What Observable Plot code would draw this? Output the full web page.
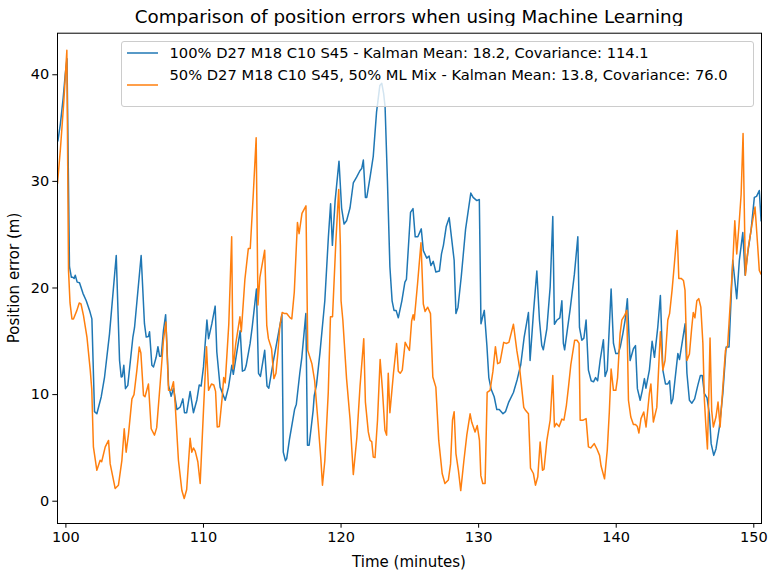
<!DOCTYPE html>
<html>
<head>
<meta charset="utf-8">
<script src="https://cdn.jsdelivr.net/npm/d3@7"></script>
<script src="https://cdn.jsdelivr.net/npm/@observablehq/plot@0.6"></script>
<style>
  html, body { margin: 0; padding: 0; background: white; }
  #wrap { position: relative; width: 768px; height: 572px; font-family: "DejaVu Sans", sans-serif; color: black; overflow: hidden; }
  #title { position: absolute; left: 57px; width: 704px; top: 6px; line-height: 22px; font-size: 18.3px; text-align: center; white-space: nowrap; }
  #chart { position: absolute; left: 0; top: 26px; }
  #xlabel { position: absolute; left: 57px; width: 704px; top: 552px; line-height: 20px; font-size: 15px; text-align: center; }
  #ylabel { position: absolute; left: 14px; top: 278px; font-size: 15px; white-space: nowrap; transform: translate(-50%, -50%) rotate(-90deg); }
  #legend { position: absolute; left: 120.5px; top: 40.5px; width: 631px; height: 64.5px; border: 1px solid #cccccc; border-radius: 3px; background: rgba(255,255,255,0.8); }
  .sw { position: absolute; width: 31px; height: 0; }
  .sw svg { display: block; overflow: visible; }
  .lt { position: absolute; font-size: 14.7px; line-height: 18px; white-space: nowrap; }
</style>
</head>
<body>
<div id="wrap">
  <div id="title"></div>
  <div id="chart"></div>
  <div id="xlabel"></div>
  <div id="ylabel"></div>
  <div id="legend"></div>
</div>
<script>
const titleText = "Comparison of position errors when using Machine Learning";
const xLabel = "Time (minutes)";
const yLabel = "Position error (m)";
const seriesNames = [
  "100% D27 M18 C10 S45 - Kalman Mean: 18.2, Covariance: 114.1",
  "50% D27 M18 C10 S45, 50% ML Mix - Kalman Mean: 13.8, Covariance: 76.0"
];
const seriesColors = ["#1f77b4", "#ff7f0e"];
const xTicks = [100, 110, 120, 130, 140, 150];
const yTicks = [0, 10, 20, 30, 40];

// [time (minutes), position error (m)]
const series100 = [[99.42,33.8],[99.6,35.4],[99.8,37.8],[99.95,40.0],[100.08,41.5],[100.26,22.0],[100.4,21.0],[100.51,21.0],[100.6,20.9],[100.68,21.2],[100.82,20.55],[100.99,20.5],[101.24,19.5],[101.48,18.8],[101.72,17.9],[101.89,17.1],[102.08,8.4],[102.25,8.2],[102.57,9.8],[102.81,11.65],[103.17,15.7],[103.66,23.05],[103.9,13.2],[104.02,11.65],[104.1,11.7],[104.21,12.75],[104.33,10.56],[104.5,10.87],[104.87,15.4],[104.99,16.3],[105.47,23.05],[105.71,16.65],[105.84,15.4],[106.0,15.45],[106.08,15.9],[106.25,12.75],[106.37,12.6],[106.56,13.5],[106.69,14.5],[106.81,13.6],[106.93,13.6],[107.09,16.0],[107.25,17.5],[107.46,10.87],[107.65,9.84],[107.82,10.6],[108.07,8.6],[108.31,8.84],[108.5,9.6],[108.62,8.3],[108.78,8.3],[109.03,10.3],[109.27,8.3],[109.52,9.5],[109.69,10.9],[109.83,10.8],[110.0,12.6],[110.25,17.0],[110.37,15.25],[110.61,16.65],[110.85,18.3],[110.97,14.0],[111.21,10.7],[111.58,9.47],[111.82,10.7],[112.06,12.75],[112.17,11.9],[112.67,16.0],[112.83,12.2],[113.0,12.3],[113.1,12.7],[113.39,14.8],[113.54,16.3],[113.85,19.9],[114.0,12.0],[114.14,11.7],[114.45,14.15],[114.62,10.8],[114.75,10.6],[115.09,13.2],[115.7,17.5],[115.8,4.6],[115.96,3.8],[116.05,4.0],[116.25,5.8],[116.45,7.3],[116.62,8.6],[116.75,9.1],[117.0,12.0],[117.15,13.5],[117.44,17.6],[117.56,5.25],[117.68,5.25],[117.97,8.5],[118.05,9.9],[118.21,10.87],[118.46,13.85],[118.82,18.8],[119.08,24.8],[119.24,27.9],[119.37,24.0],[119.57,28.2],[119.85,31.9],[120.04,27.5],[120.22,26.0],[120.4,26.3],[120.65,27.5],[120.89,29.85],[121.13,30.4],[121.37,31.0],[121.5,31.2],[121.62,32.0],[121.77,28.5],[121.87,28.5],[122.11,30.4],[122.34,32.35],[122.58,36.5],[122.82,39.0],[122.96,39.2],[123.1,38.2],[123.2,37.0],[123.37,30.1],[123.55,22.0],[123.71,18.8],[123.85,17.9],[124.0,17.9],[124.16,17.2],[124.42,18.8],[124.64,20.55],[124.75,20.8],[125.05,27.1],[125.23,27.45],[125.39,24.8],[125.58,24.8],[125.83,25.55],[125.98,23.5],[126.23,22.8],[126.4,23.0],[126.53,22.1],[126.7,22.5],[126.89,21.5],[127.15,21.6],[127.3,23.2],[127.44,24.0],[127.65,25.8],[127.86,26.6],[128.22,22.6],[128.35,17.6],[128.5,18.2],[128.74,21.1],[129.05,25.5],[129.43,28.9],[129.6,28.5],[129.87,28.2],[130.05,28.3],[130.17,16.65],[130.41,17.9],[130.6,14.6],[130.74,11.6],[130.91,10.5],[131.13,9.8],[131.32,8.6],[131.5,8.6],[131.77,8.2],[131.95,8.4],[132.19,9.3],[132.53,10.2],[132.8,11.4],[133.06,12.8],[133.31,15.4],[133.62,17.7],[133.74,13.2],[133.98,17.6],[134.23,21.6],[134.42,17.0],[134.59,14.6],[134.7,14.2],[134.96,16.2],[135.2,20.1],[135.39,26.7],[135.51,16.6],[135.7,17.0],[135.9,17.2],[136.05,18.8],[136.16,14.8],[136.25,14.2],[136.65,18.0],[136.96,21.3],[137.21,24.8],[137.33,16.3],[137.5,15.1],[137.65,15.3],[137.81,17.0],[137.98,12.3],[138.18,11.3],[138.35,11.2],[138.5,11.6],[138.65,11.3],[138.83,13.2],[139.07,15.15],[139.19,11.7],[139.35,12.3],[139.63,19.9],[139.8,14.8],[139.97,13.85],[140.15,13.85],[140.3,14.5],[140.48,15.7],[140.65,17.0],[140.81,19.0],[141.01,13.2],[141.25,14.3],[141.4,14.6],[141.54,10.56],[141.74,9.47],[141.9,10.4],[142.05,11.5],[142.16,10.6],[142.41,12.3],[142.61,15.0],[142.78,13.5],[143.02,16.3],[143.21,19.3],[143.39,12.3],[143.58,11.0],[143.75,11.0],[143.88,11.3],[144.0,9.15],[144.12,9.6],[144.48,13.85],[144.6,13.3],[145.01,16.65],[145.14,12.0],[145.32,9.47],[145.5,9.2],[145.7,9.6],[145.93,10.87],[146.12,11.8],[146.25,11.8],[146.41,10.1],[146.6,9.7],[146.77,8.2],[146.9,5.4],[147.09,4.3],[147.25,4.9],[147.5,6.96],[147.75,10.1],[147.99,14.46],[148.2,14.46],[148.47,22.6],[148.76,19.0],[148.95,22.6],[149.2,25.2],[149.37,21.2],[149.55,23.2],[149.8,25.4],[150.04,28.5],[150.2,28.6],[150.4,29.15],[150.53,26.3]];

const series50 = [[99.39,29.8],[99.6,33.0],[99.85,37.5],[100.07,42.3],[100.19,21.65],[100.3,18.6],[100.44,17.1],[100.55,17.1],[100.8,17.9],[100.97,18.6],[101.1,18.5],[101.28,17.4],[101.53,15.4],[101.77,12.3],[101.88,10.5],[102.0,5.1],[102.25,2.9],[102.49,3.84],[102.6,3.7],[102.86,5.1],[103.1,5.7],[103.22,3.5],[103.58,1.2],[103.82,1.5],[104.07,3.84],[104.24,6.8],[104.38,4.6],[104.55,6.3],[104.8,9.6],[104.95,10.0],[105.16,12.3],[105.33,14.46],[105.45,13.9],[105.64,9.93],[105.75,9.8],[106.0,11.0],[106.2,6.8],[106.44,6.2],[106.6,6.9],[106.85,11.0],[107.09,15.1],[107.27,16.8],[107.46,10.4],[107.65,10.4],[107.82,11.2],[107.94,9.15],[108.18,3.84],[108.43,1.0],[108.6,0.25],[108.78,1.1],[109.03,5.9],[109.15,4.6],[109.27,5.0],[109.4,4.7],[109.59,3.7],[109.76,1.66],[110.0,8.5],[110.22,14.5],[110.37,10.4],[110.58,11.0],[110.75,10.9],[110.88,10.3],[111.0,6.96],[111.15,7.0],[111.35,9.6],[111.47,11.6],[111.58,11.1],[111.84,16.6],[112.05,24.8],[112.15,12.4],[112.35,14.8],[112.65,17.3],[112.75,15.9],[113.01,20.8],[113.26,23.7],[113.4,23.7],[113.62,28.8],[113.83,34.1],[113.96,18.4],[114.1,21.0],[114.45,23.55],[114.6,16.5],[114.72,15.25],[114.95,14.3],[115.12,11.5],[115.27,12.0],[115.4,13.8],[115.55,16.4],[115.72,17.7],[115.9,17.6],[116.05,17.6],[116.3,17.2],[116.42,17.1],[116.6,19.6],[116.83,26.15],[116.95,25.1],[117.16,27.0],[117.45,27.7],[117.58,14.15],[117.88,12.9],[118.08,11.3],[118.34,7.2],[118.53,4.0],[118.65,1.5],[118.82,3.8],[119.07,10.2],[119.23,17.3],[119.38,17.3],[119.62,24.3],[119.83,29.25],[119.95,24.0],[120.0,18.8],[120.13,17.0],[120.4,11.5],[120.66,7.6],[120.89,2.5],[121.15,6.0],[121.38,10.8],[121.65,15.25],[121.77,9.3],[121.98,6.5],[122.11,5.7],[122.23,5.6],[122.34,4.15],[122.47,4.1],[122.65,7.6],[122.84,13.3],[123.0,10.6],[123.19,6.65],[123.31,6.2],[123.43,12.0],[123.55,8.3],[123.81,12.0],[124.04,14.8],[124.16,12.2],[124.3,12.0],[124.45,12.3],[124.66,14.9],[124.78,14.6],[124.97,14.15],[125.13,16.9],[125.24,17.5],[125.32,17.0],[125.56,20.4],[125.81,24.25],[125.98,18.5],[126.11,17.8],[126.3,18.2],[126.5,17.6],[126.67,11.65],[126.89,10.7],[127.1,5.7],[127.35,2.6],[127.55,1.66],[127.8,2.0],[127.96,3.5],[128.1,7.6],[128.22,8.4],[128.35,4.47],[128.53,2.9],[128.7,1.0],[128.92,3.7],[129.14,6.2],[129.38,8.2],[129.5,7.4],[129.74,6.5],[129.9,7.1],[130.06,5.7],[130.16,2.4],[130.3,1.66],[130.47,1.66],[130.62,10.2],[130.83,10.4],[131.04,12.2],[131.22,14.5],[131.38,12.9],[131.55,13.0],[131.82,14.9],[132.0,14.8],[132.2,14.9],[132.53,16.6],[132.78,14.1],[132.97,12.6],[133.1,11.0],[133.28,8.8],[133.42,8.5],[133.62,8.2],[133.77,3.1],[133.98,2.6],[134.13,1.5],[134.3,2.3],[134.47,5.56],[134.64,2.9],[134.75,3.0],[134.96,5.7],[135.2,7.6],[135.39,11.8],[135.51,6.96],[135.65,7.3],[135.85,7.0],[136.05,7.7],[136.2,7.6],[136.38,9.0],[136.53,10.7],[136.7,12.8],[136.98,15.1],[137.15,15.1],[137.3,14.8],[137.38,7.6],[137.6,7.6],[137.81,7.75],[137.98,5.1],[138.15,5.0],[138.4,5.4],[138.6,4.9],[138.79,4.3],[138.9,3.3],[139.15,2.1],[139.35,4.8],[139.5,8.4],[139.63,12.4],[139.8,10.4],[139.97,10.4],[140.1,11.6],[140.28,15.7],[140.41,17.0],[140.6,17.4],[140.77,17.9],[140.89,9.47],[141.06,7.9],[141.25,7.2],[141.4,7.2],[141.54,7.0],[141.65,6.4],[141.8,7.75],[142.0,8.37],[142.17,6.96],[142.41,10.1],[142.52,11.0],[142.7,7.43],[142.95,8.8],[143.21,15.9],[143.39,12.3],[143.55,13.2],[143.75,17.0],[143.88,17.6],[144.06,19.8],[144.23,22.3],[144.43,25.4],[144.55,20.9],[144.72,20.9],[144.89,20.7],[145.0,19.8],[145.14,13.2],[145.32,13.8],[145.49,16.3],[145.6,17.7],[145.72,17.2],[145.86,18.8],[146.0,19.0],[146.15,18.2],[146.3,14.8],[146.41,9.47],[146.52,7.0],[146.63,4.9],[146.73,10.0],[146.82,15.3],[146.94,8.5],[147.06,6.96],[147.25,7.9],[147.4,9.3],[147.55,6.96],[147.75,10.7],[147.94,14.15],[148.1,14.6],[148.3,18.8],[148.47,22.3],[148.62,26.3],[148.76,23.2],[148.92,25.8],[149.08,28.8],[149.22,34.5],[149.39,21.2],[149.6,23.8],[149.85,25.8],[150.09,27.6],[150.29,23.8],[150.4,21.65],[150.53,21.3]];

document.getElementById("title").textContent = titleText;
document.getElementById("xlabel").textContent = xLabel;
document.getElementById("ylabel").textContent = yLabel;

const chart = Plot.plot({
  width: 768,
  height: 546,
  marginLeft: 57,
  marginRight: 7,
  marginTop: 6.7,
  marginBottom: 49,
  style: { fontFamily: "DejaVu Sans", fontSize: "14.5px", color: "black", background: "white", overflow: "visible" },
  x: { domain: [99.39, 150.56] },
  y: { domain: [-2.09, 43.9] },
  marks: [
    Plot.line(series100, { x: d => d[0], y: d => d[1], stroke: seriesColors[0], strokeWidth: 1.5, clip: true }),
    Plot.line(series50, { x: d => d[0], y: d => d[1], stroke: seriesColors[1], strokeWidth: 1.5, clip: true }),
    Plot.frame({ stroke: "black", strokeWidth: 1 }),
    Plot.axisX({ ticks: xTicks, tickSize: 4.7, tickPadding: 3.5, tickFormat: d => String(d), label: null, fontSize: 14.5 }),
    Plot.axisY({ ticks: yTicks, tickSize: 4.7, tickPadding: 3.5, tickFormat: d => String(d), label: null, fontSize: 14.5 })
  ]
});
document.getElementById("chart").appendChild(chart);

// legend
const legend = document.getElementById("legend");
const rows = [
  { sw: 11.5, text: 2 },
  { sw: 43.5, text: 24.5 }
];
seriesNames.forEach((name, i) => {
  const sw = document.createElement("div");
  sw.className = "sw";
  sw.style.left = "5px";
  sw.style.top = rows[i].sw + "px";
  sw.innerHTML = `<svg width="31" height="1"><line x1="0" x2="31" y1="0" y2="0" stroke="${seriesColors[i]}" stroke-width="1.5"/></svg>`;
  legend.appendChild(sw);
  const t = document.createElement("div");
  t.className = "lt";
  t.style.left = "48px";
  t.style.top = rows[i].text + "px";
  t.textContent = name;
  legend.appendChild(t);
});
</script>
</body>
</html>
